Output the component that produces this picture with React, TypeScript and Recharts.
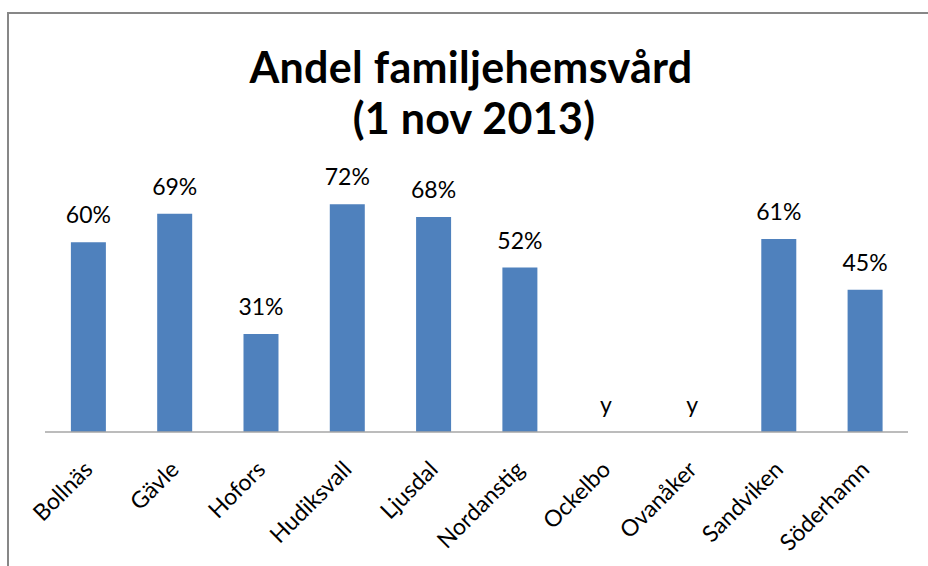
import React from "react";
import { ComposedChart, Bar, Line, XAxis, YAxis, LabelList } from "recharts";

const categories = ["Bollnäs", "Gävle", "Hofors", "Hudiksvall", "Ljusdal", "Nordanstig", "Ockelbo", "Ovanåker", "Sandviken", "Söderhamn"];
const shares = [0.60, 0.69, 0.31, 0.72, 0.68, 0.52, 0, 0, 0.61, 0.45];
const valueLabels = ["60%", "69%", "31%", "72%", "68%", "52%", "y", "y", "61%", "45%"];
const titleLines = ["Andel familjehemsvård", "(1 nov 2013)"];

const data = categories.map((c, i) => ({
  name: c,
  value: shares[i],
  label: shares[i] > 0 ? valueLabels[i] : undefined,
  zeroLabel: shares[i] > 0 ? undefined : valueLabels[i],
}));

const FONT = "Lato, 'Open Sans', sans-serif";

const Tick = (props: any) => {
  const { x, y, payload } = props;
  const ax = x + 6;
  const ay = y + 39;
  return (
    <text
      x={ax}
      y={ay}
      transform={`rotate(-45, ${ax}, ${ay})`}
      textAnchor="end"
      fontSize={23}
      fontFamily={FONT}
      fill="#000"
    >
      {payload.value}
    </text>
  );
};

export default function App() {
  return (
    <div style={{ position: "fixed", left: 0, top: 0, width: 928, height: 566, background: "#fff", overflow: "hidden" }}>
      <div
        style={{
          position: "absolute",
          left: 7,
          top: 12,
          width: 960,
          height: 600,
          border: "2px solid #878787",
          boxSizing: "border-box",
        }}
      />
      <svg width={928} height={170} style={{ position: "absolute", left: 0, top: 0 }}>
        <text x={471} y={83} textAnchor="middle" fontSize={43} fontWeight={700} fontFamily={FONT} letterSpacing={0.3} fill="#000">
          {titleLines[0]}
        </text>
        <text x={474} y={134} textAnchor="middle" fontSize={43} fontWeight={700} fontFamily={FONT} letterSpacing={0.3} fill="#000">
          {titleLines[1]}
        </text>
      </svg>
      <div style={{ position: "absolute", left: 0, top: 0 }}>
        <ComposedChart
          width={928}
          height={566}
          data={data}
          margin={{ top: 179, right: 20, bottom: 0, left: 45 }}
          barCategoryGap="30%"
        >
          <XAxis
            dataKey="name"
            height={134}
            interval={0}
            tickLine={false}
            tickSize={0}
            tickMargin={0}
            axisLine={{ stroke: "#a6a6a6", strokeWidth: 1.5 }}
            tick={<Tick />}
          />
          <YAxis hide domain={[0, 0.8]} />
          <Bar dataKey="value" fill="#4f81bd" isAnimationActive={false}>
            <LabelList
              dataKey="label"
              position="top"
              offset={19}
              fontSize={23}
              fontFamily={FONT}
              fill="#000"
            />
          </Bar>
          <Line
            dataKey="value"
            stroke="none"
            dot={false}
            activeDot={false}
            isAnimationActive={false}
          >
            <LabelList
              dataKey="zeroLabel"
              position="top"
              offset={19}
              fontSize={23}
              fontFamily={FONT}
              fill="#000"
            />
          </Line>
        </ComposedChart>
      </div>
    </div>
  );
}
